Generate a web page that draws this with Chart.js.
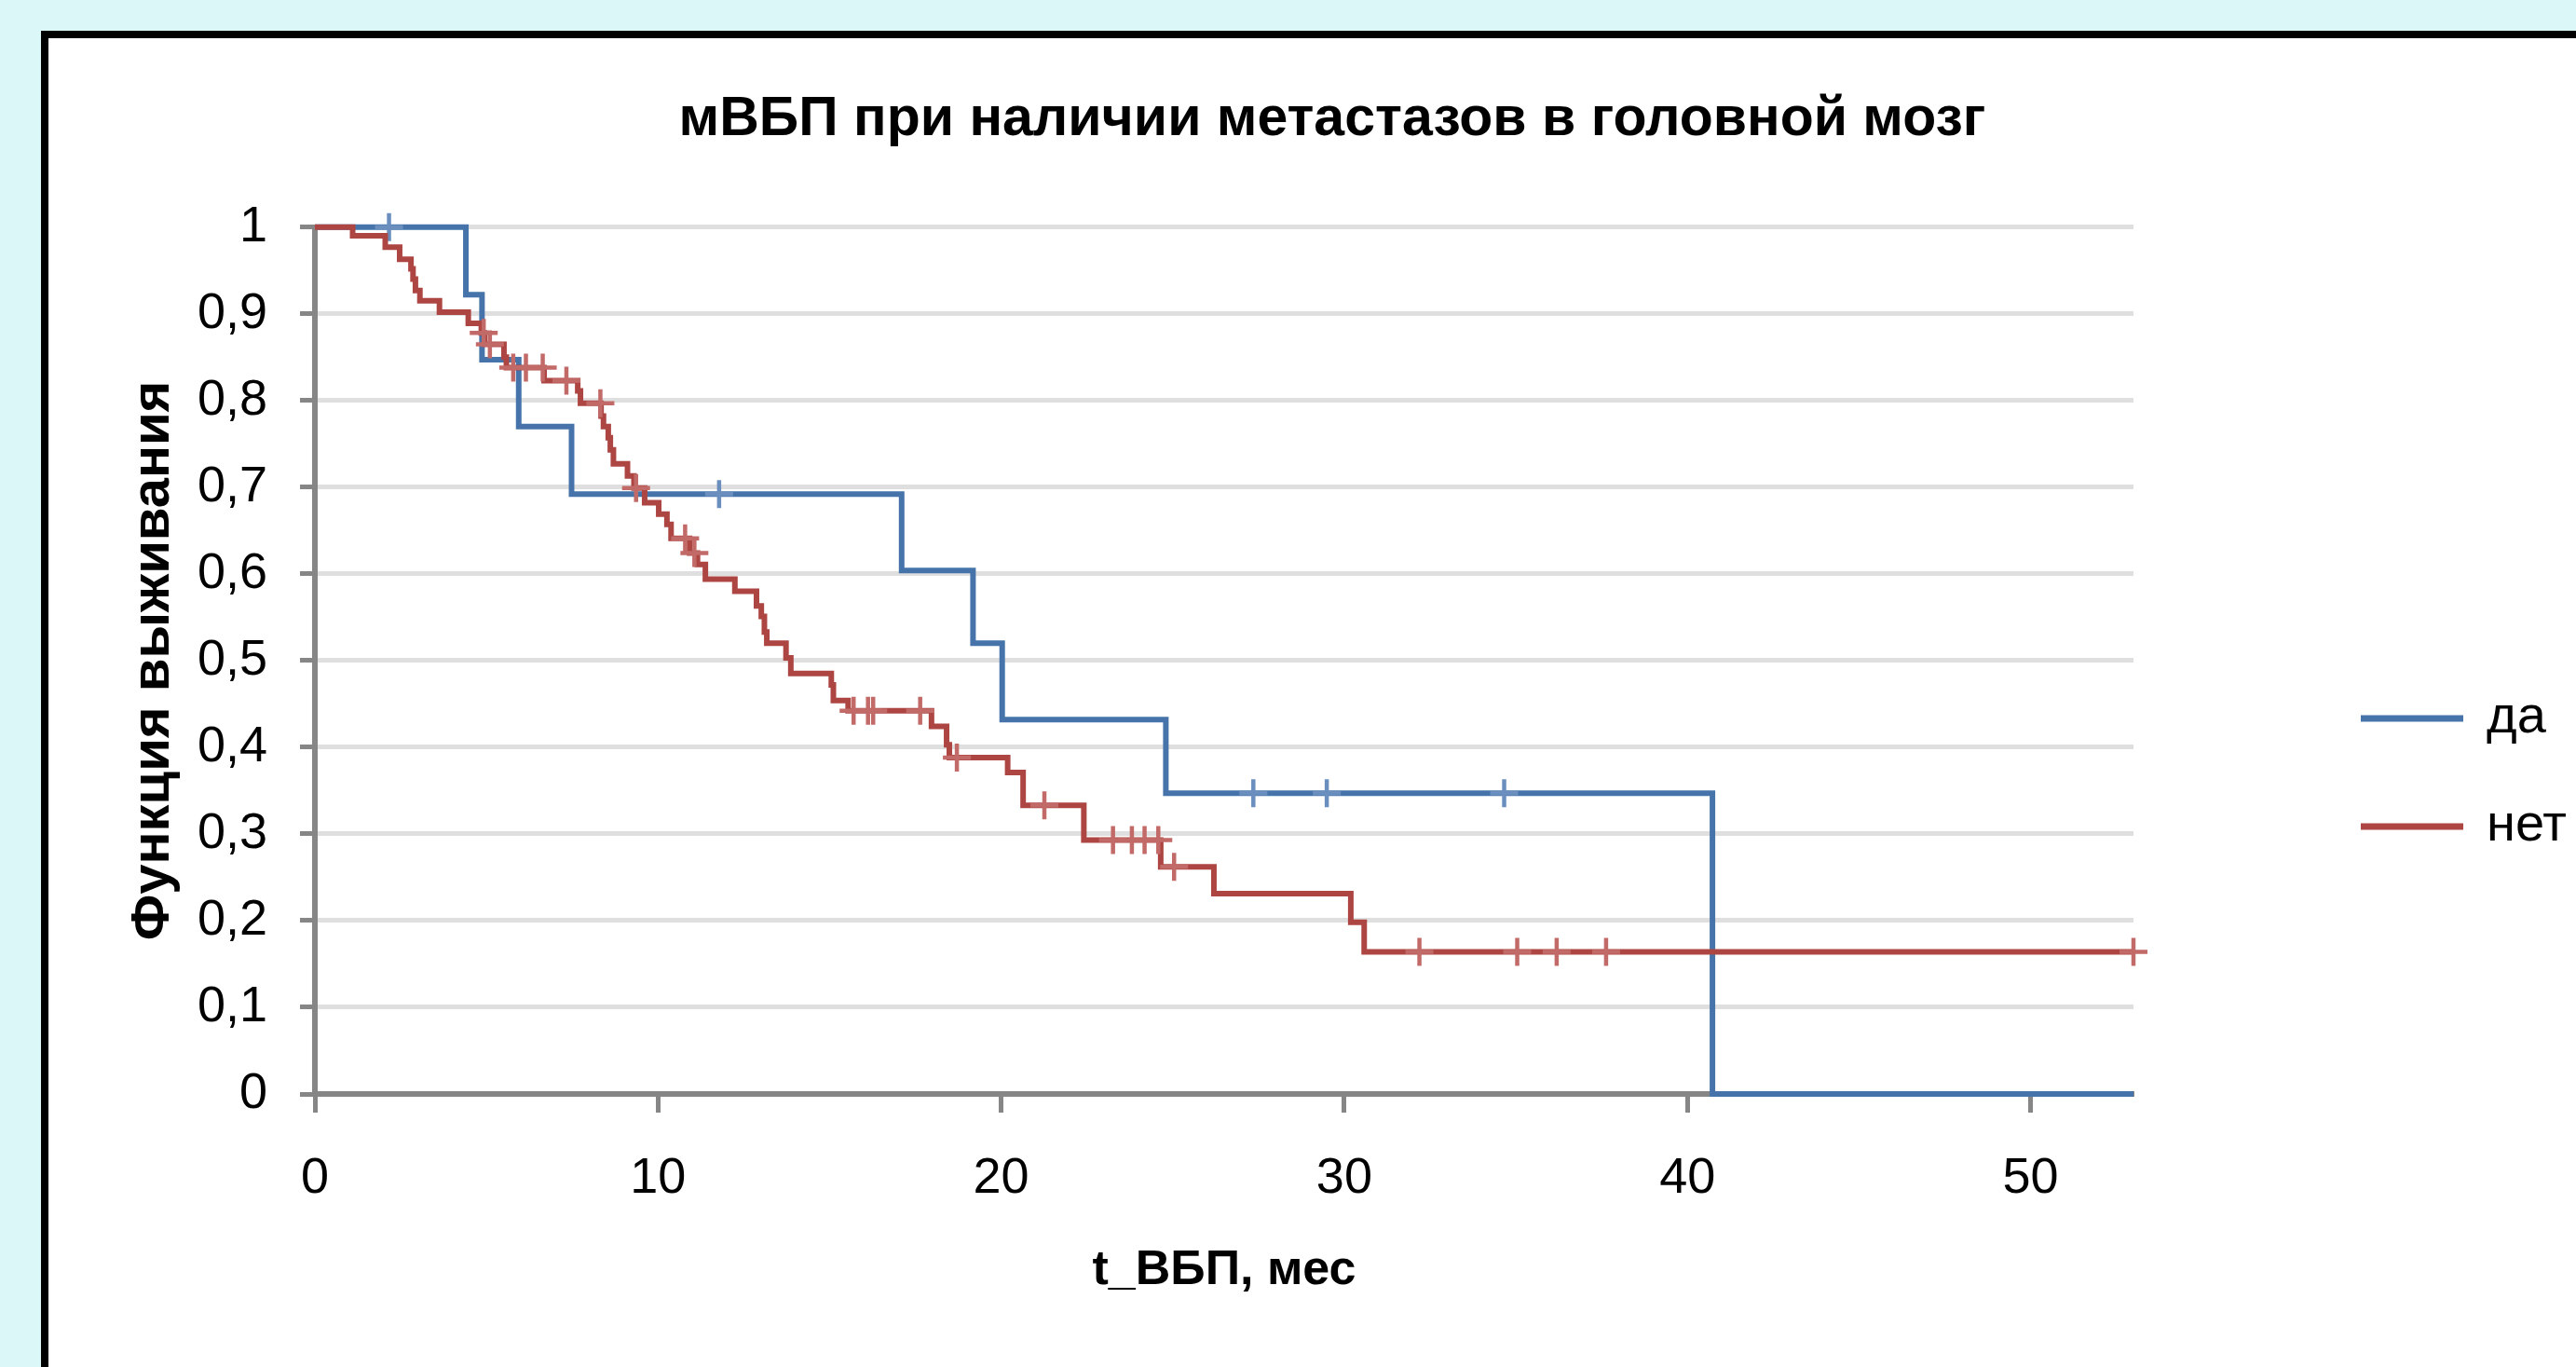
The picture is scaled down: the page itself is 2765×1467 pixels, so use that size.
<!DOCTYPE html>
<html>
<head>
<meta charset="utf-8">
<script src="https://cdn.jsdelivr.net/npm/chart.js@4.4.1/dist/chart.umd.min.js"></script>
<style>
html, body { margin: 0; padding: 0; width: 2765px; height: 1467px; overflow: hidden; background: #dcf7f8; }
#frame { position: absolute; left: 44px; top: 33px; width: 2800px; height: 1500px;
         border-left: 8px solid #000; border-top: 8px solid #000; background: #fff; }
#chart { position: absolute; left: 0; top: 0; }
</style>
</head>
<body>
<div id="frame"><canvas id="chart" width="2756" height="1426"></canvas></div>
<script>
// group "да" (blue): time, survival, censored flag
const daTime = [0, 2.16, 4.40, 4.87, 5.94, 7.48, 11.78, 17.10, 19.18, 20.03, 24.80, 27.35, 29.49, 34.66, 40.73, 53.0];
const daSurv = [1, 1, 0.922, 0.847, 0.770, 0.692, 0.692, 0.604, 0.520, 0.432, 0.347, 0.347, 0.347, 0.347, 0, 0];
const daCens = [0, 1, 0, 0, 0, 0, 1, 0, 0, 0, 0, 1, 1, 1, 0, 0];

// group "нет" (red)
const netTime = [
  0, 1.10, 2.05, 2.47, 2.80, 2.86, 2.93, 3.06, 3.63, 4.47,
  4.85, 4.92, 4.95, 5.10, 5.51, 5.58, 5.78, 6.15, 6.64, 6.68,
  7.33, 7.66, 7.74, 8.32, 8.34, 8.41, 8.55, 8.61, 8.70, 9.11,
  9.30, 9.36, 9.61, 10.02, 10.26, 10.38, 10.79, 10.92, 11.06, 11.15,
  11.38, 12.24, 12.87, 13.01, 13.10, 13.17, 13.73, 13.87, 15.05, 15.11,
  15.54, 15.70, 16.12, 16.27, 17.64, 17.97, 18.41, 18.49, 18.71, 20.19,
  20.64, 21.26, 22.41, 23.26, 23.81, 24.18, 24.58, 24.65, 25.04, 26.20,
  30.19, 30.58, 32.19, 35.04, 36.19, 37.63, 53.0
];
const netSurv = [
  1, 0.990, 0.977, 0.963, 0.952, 0.940, 0.927, 0.915, 0.902, 0.889,
  0.878, 0.878, 0.865, 0.865, 0.850, 0.838, 0.838, 0.838, 0.838, 0.823,
  0.823, 0.811, 0.797, 0.797, 0.782, 0.770, 0.757, 0.743, 0.727, 0.713,
  0.699, 0.699, 0.682, 0.669, 0.657, 0.641, 0.641, 0.624, 0.624, 0.611,
  0.594, 0.580, 0.563, 0.551, 0.533, 0.520, 0.503, 0.485, 0.472, 0.454,
  0.442, 0.442, 0.442, 0.442, 0.442, 0.424, 0.403, 0.388, 0.388, 0.371,
  0.333, 0.333, 0.293, 0.293, 0.293, 0.293, 0.293, 0.262, 0.262, 0.231,
  0.198, 0.164, 0.164, 0.164, 0.164, 0.164, 0.164
];
const netCens = [
  0, 0, 0, 0, 0, 0, 0, 0, 0, 0,
  0, 1, 0, 1, 0, 0, 1, 1, 1, 0,
  1, 0, 0, 1, 0, 0, 0, 0, 0, 0,
  0, 1, 0, 0, 0, 0, 1, 0, 1, 0,
  0, 0, 0, 0, 0, 0, 0, 0, 0, 0,
  0, 1, 1, 1, 1, 0, 0, 0, 1, 0,
  0, 1, 0, 1, 1, 1, 1, 0, 1, 0,
  0, 0, 1, 1, 1, 1, 1
];

const xTicks = [0, 10, 20, 30, 40, 50];
const yTickLabels = ['0', '0,1', '0,2', '0,3', '0,4', '0,5', '0,6', '0,7', '0,8', '0,9', '1'];

const FONT = '"Liberation Sans", Arial, sans-serif';
const BLUE = '#4674aa', BLUE_MARK = '#6a8fbf';
const RED = '#ad4643', RED_MARK = '#c26a68';
const AXIS = '#868686';

function toPoints(t, s) {
    return t.map((x, i) => ({ x: x, y: s[i] }));
}

// put the legend where the original has it, to the right of the plot
const legendPlace = {
    id: 'legendPlace',
    afterInit(chart) {
        const lg = chart.legend;
        const fit = lg.fit;
        lg.fit = function() {
            fit.call(this);
            this.width = 518;
        };
    },
    afterLayout(chart) {
        const lg = chart.legend;
        lg.left = 2425;
        lg.right = lg.left + 330;
        lg.top = 642;
        lg.bottom = lg.top + 300;
    }
};

const ctx = document.getElementById('chart').getContext('2d');
new Chart(ctx, {
    type: 'line',
    data: {
        datasets: [{
            label: 'да',
            data: toPoints(daTime, daSurv),
            borderColor: BLUE,
            backgroundColor: BLUE,
            borderWidth: 6,
            stepped: true,
            fill: false,
            order: 1,
            clip: 20,
            pointStyle: 'cross',
            pointRadius: c => daCens[c.dataIndex] ? 15 : 0,
            pointHoverRadius: 0,
            pointBorderColor: BLUE_MARK,
            pointBorderWidth: 4.5
        }, {
            label: 'нет',
            data: toPoints(netTime, netSurv),
            borderColor: RED,
            backgroundColor: RED,
            borderWidth: 6,
            stepped: true,
            fill: false,
            order: 0,
            clip: 20,
            pointStyle: 'cross',
            pointRadius: c => netCens[c.dataIndex] ? 15 : 0,
            pointHoverRadius: 0,
            pointBorderColor: RED_MARK,
            pointBorderWidth: 4.5
        }]
    },
    options: {
        responsive: false,
        devicePixelRatio: 1,
        animation: false,
        events: [],
        layout: { padding: 0 },
        plugins: {
            tooltip: { enabled: false },
            title: {
                display: true,
                text: 'мВБП при наличии метастазов в головной мозг',
                color: '#000',
                font: { family: FONT, size: 59, weight: 'bold' },
                padding: { top: 52, bottom: 80 }
            },
            legend: {
                position: 'right',
                align: 'start',
                labels: {
                    color: '#000',
                    font: { family: FONT, size: 56 },
                    boxWidth: 104,
                    boxHeight: 1,
                    padding: 60,
                    sort: (a, b) => a.datasetIndex - b.datasetIndex
                }
            }
        },
        scales: {
            x: {
                type: 'linear',
                min: 0,
                max: 53,
                afterFit: s => { s.height = 293; },
                afterBuildTicks: s => { s.ticks = xTicks.map(v => ({ value: v })); },
                ticks: {
                    color: '#000',
                    font: { family: FONT, size: 54 },
                    padding: 39,
                    maxRotation: 0,
                    autoSkip: false
                },
                grid: {
                    drawOnChartArea: false,
                    drawTicks: true,
                    tickLength: 20,
                    tickWidth: 5,
                    tickColor: AXIS
                },
                border: { display: true, color: AXIS, width: 6 },
                title: {
                    display: true,
                    text: 't_ВБП, мес',
                    color: '#000',
                    font: { family: FONT, size: 52, weight: 'bold' },
                    padding: { top: 0, bottom: 72 }
                }
            },
            y: {
                type: 'linear',
                min: 0,
                max: 1,
                afterFit: s => { s.width = 286; },
                ticks: {
                    stepSize: 0.1,
                    color: '#000',
                    font: { family: FONT, size: 54 },
                    padding: 35,
                    callback: (v, i) => yTickLabels[i]
                },
                grid: {
                    color: c => (c.tick && c.tick.value === 0) ? 'rgba(0,0,0,0)' : '#dfdfdf',
                    lineWidth: 5,
                    tickLength: 16,
                    tickWidth: 5,
                    tickColor: AXIS
                },
                border: { display: true, color: AXIS, width: 6 },
                title: {
                    display: true,
                    text: 'Функция выживания',
                    color: '#000',
                    font: { family: FONT, size: 58, weight: 'bold' },
                    padding: { top: 78, bottom: 0 }
                }
            }
        }
    },
    plugins: [legendPlace]
});
</script>
</body>
</html>
